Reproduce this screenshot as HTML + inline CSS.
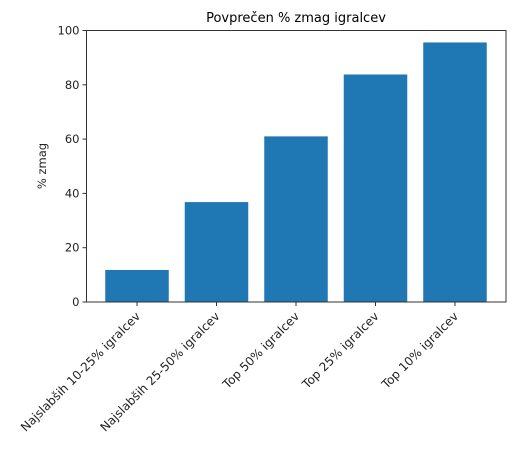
<!DOCTYPE html>
<html><head><meta charset="utf-8"><style>
body{margin:0;background:#fff;width:522px;height:448px;overflow:hidden;font-family:"DejaVu Sans","Liberation Sans",sans-serif}
</style></head><body>
<svg width="522" height="448" id="c" style="font-family:'DejaVu Sans','Liberation Sans',sans-serif">
<text x="296" y="22" text-anchor="middle" font-size="13" fill="#000">Povprečen % zmag igralcev</text>
<text transform="translate(46,166) rotate(-90)" text-anchor="middle" font-size="11.5" fill="#222">% zmag</text>
</svg>
<script>
const categories=["Najslabših 10-25% igralcev","Najslabših 25-50% igralcev","Top 50% igralcev","Top 25% igralcev","Top 10% igralcev"];
const values=[11.8,36.8,61.0,83.8,95.6];
const yTicks=[0,20,40,60,80,100];
const svg=document.getElementById('c');
const NS='http://www.w3.org/2000/svg';
const L=86.5,R=506,T=30.5,B=302;
const y=v=>B-(v/100)*(B-T);
const x=i=>137+79.5*i;
const bw=63.5;
function mk(t,a){const e=document.createElementNS(NS,t);for(const k in a)e.setAttribute(k,a[k]);svg.appendChild(e);return e;}
values.forEach((v,i)=>{
  const r=mk('rect',{x:x(i)-bw/2,y:y(v),width:bw,height:B-y(v),fill:'#1f77b4'});
  
  
  const tk=mk('line',{x1:x(i),x2:x(i),y1:B,y2:B+4,stroke:'#333','stroke-width':1});
  
  
  const t=mk('text',{transform:`translate(${x(i)+4},${B+15}) rotate(-45)`,'text-anchor':'end','font-size':12,fill:'#222'});
  t.textContent=categories[i];
  
  
});
yTicks.forEach(v=>{
  const tk=mk('line',{x1:L-4,x2:L,y1:y(v),y2:y(v),stroke:'#333','stroke-width':1});
  
  
  const t=mk('text',{x:L-7,y:y(v)+4,'text-anchor':'end','font-size':11.5,fill:'#222'});
  t.textContent=v;
  
  
});
const f=mk('rect',{x:L,y:T,width:R-L,height:B-T,fill:'none',stroke:'#333','stroke-width':1});


</script>
</body></html>
